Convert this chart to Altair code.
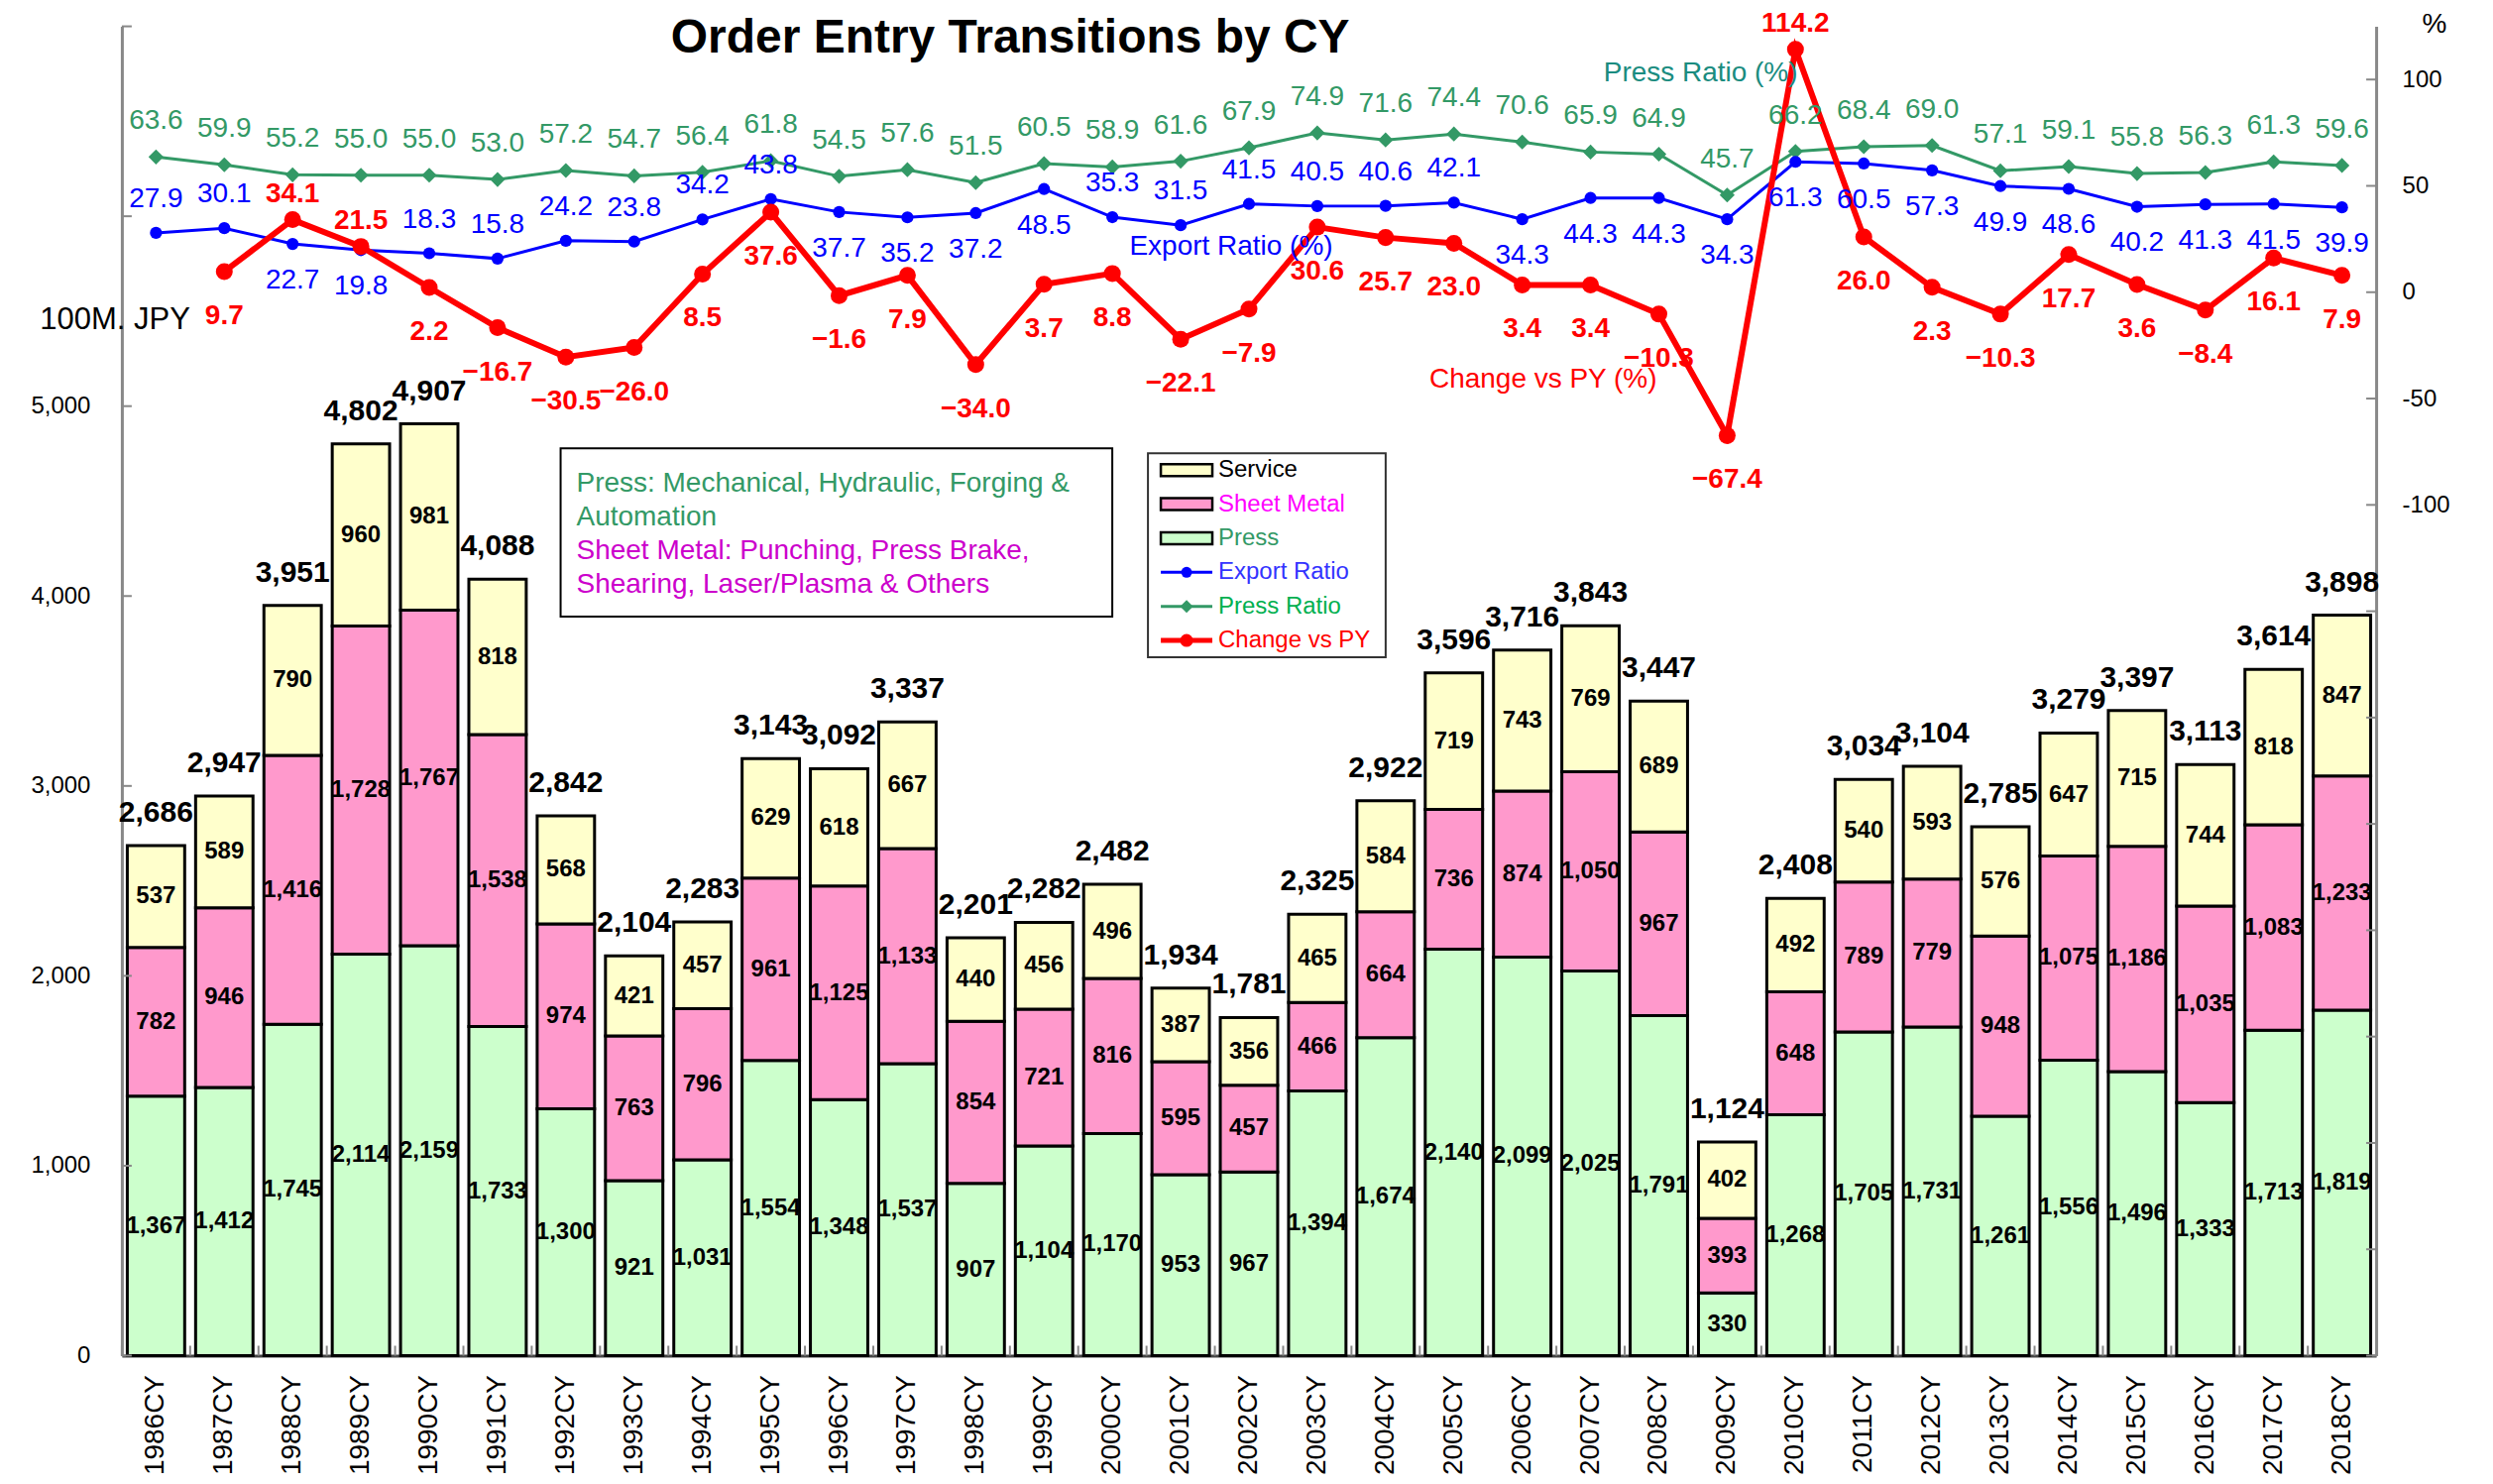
import altair as alt
import pandas as pd

# ---------------- data ----------------
years = [f"{y}CY" for y in range(1986, 2019)]
press = [1367, 1412, 1745, 2114, 2159, 1733, 1300, 921, 1031, 1554, 1348, 1537, 907, 1104, 1170,
         953, 967, 1394, 1674, 2140, 2099, 2025, 1791, 330, 1268, 1705, 1731, 1261, 1556, 1496,
         1333, 1713, 1819]
sheet_metal = [782, 946, 1416, 1728, 1767, 1538, 974, 763, 796, 961, 1125, 1133, 854, 721, 816,
               595, 457, 466, 664, 736, 874, 1050, 967, 393, 648, 789, 779, 948, 1075, 1186,
               1035, 1083, 1233]
service = [537, 589, 790, 960, 981, 818, 568, 421, 457, 629, 618, 667, 440, 456, 496,
           387, 356, 465, 584, 719, 743, 769, 689, 402, 492, 540, 593, 576, 647, 715,
           744, 818, 847]
totals = [2686, 2947, 3951, 4802, 4907, 4088, 2842, 2104, 2283, 3143, 3092, 3337, 2201, 2282, 2482,
          1934, 1781, 2325, 2922, 3596, 3716, 3843, 3447, 1124, 2408, 3034, 3104, 2785, 3279, 3397,
          3113, 3614, 3898]
press_ratio = [63.6, 59.9, 55.2, 55.0, 55.0, 53.0, 57.2, 54.7, 56.4, 61.8, 54.5, 57.6, 51.5, 60.5, 58.9,
               61.6, 67.9, 74.9, 71.6, 74.4, 70.6, 65.9, 64.9, 45.7, 66.2, 68.4, 69.0, 57.1, 59.1, 55.8,
               56.3, 61.3, 59.6]
export_ratio = [27.9, 30.1, 22.7, 19.8, 18.3, 15.8, 24.2, 23.8, 34.2, 43.8, 37.7, 35.2, 37.2, 48.5, 35.3,
                31.5, 41.5, 40.5, 40.6, 42.1, 34.3, 44.3, 44.3, 34.3, 61.3, 60.5, 57.3, 49.9, 48.6, 40.2,
                41.3, 41.5, 39.9]
change_vs_py = [None, 9.7, 34.1, 21.5, 2.2, -16.7, -30.5, -26.0, 8.5, 37.6, -1.6, 7.9, -34.0, 3.7, 8.8,
                -22.1, -7.9, 30.6, 25.7, 23.0, 3.4, 3.4, -10.3, -67.4, 114.2, 26.0, 2.3, -10.3, 17.7, 3.6,
                -8.4, 16.1, 7.9]
# label placement relative to the point (a = above, b = below)
export_side = ["a", "a", "b", "b", "a", "a", "a", "a", "a", "a", "b", "b", "b", "b", "a",
               "a", "a", "a", "a", "a", "b", "b", "b", "b", "b", "b", "b", "b", "b", "b",
               "b", "b", "b"]
change_side = ["b", "b", "a", "a", "b", "b", "b", "b", "b", "b", "b", "b", "b", "b", "b",
               "b", "b", "b", "b", "b", "b", "b", "b", "b", "a", "b", "b", "b", "b", "b",
               "b", "b", "b"]
categories = ["Press", "Sheet Metal", "Service"]
cat_colors = ["#ccffcc", "#ff99cc", "#ffffcc"]
left_ticks = [0, 1000, 2000, 3000, 4000, 5000, 6000, 7000]
left_labels = [0, 1000, 2000, 3000, 4000, 5000]
right_ticks = [-500, -450, -400, -350, -300, -250, -200, -150, -100, -50, 0, 50, 100]
right_labels = [-100, -50, 0, 50, 100]

# ---------------- layout ----------------
W, H = 2276, 1342
FONT = "Liberation Sans"
GREEN = "#339966"
BLUE = "#0000ff"
RED = "#ff0000"

rows = []
for i, y in enumerate(years):
    for k, (cat, vals) in enumerate(zip(categories, [press, sheet_metal, service])):
        rows.append({"year": y, "category": cat, "value": vals[i], "order": k})
bars_df = pd.DataFrame(rows)
year_df = pd.DataFrame({"year": years, "total": totals, "press_ratio": press_ratio,
                        "export_ratio": export_ratio, "change": change_vs_py,
                        "export_side": export_side, "change_side": change_side})

xsc = alt.Scale(domain=years, paddingInner=0.16, paddingOuter=0.08)
ysc_left = alt.Scale(domain=[0, 7000], nice=False, zero=True)
ysc_right = alt.Scale(domain=[-500, 125], nice=False, zero=False)

x_axis = alt.Axis(labelAngle=270, labelFontSize=28, labelFont=FONT, labelColor="#000", title=None,
                  tickSize=0, labelPadding=19, domainColor="#444", domainWidth=3, grid=False)
left_axis = alt.Axis(values=left_labels, labelExpr="format(datum.value, ',')", labelFontSize=24,
                     labelFont=FONT, title=None, labelColor="#000", tickSize=0, grid=False,
                     labelPadding=32, domainColor="#888", domainWidth=3, orient="left")
right_axis = alt.Axis(values=right_labels, labelExpr="'' + datum.value", orient="right", labelFontSize=24,
                      labelFont=FONT, title=None, labelColor="#000", tickSize=0, grid=False,
                      labelPadding=26, domainColor="#888", domainWidth=3)


def X(**kw):
    return alt.X("year:N", scale=xsc, axis=x_axis, sort=years, title=None, **kw)


def YL(f, **kw):
    return alt.Y(f, scale=ysc_left, axis=left_axis, title=None, **kw)


def YR(f):
    return alt.Y(f, scale=ysc_right, axis=right_axis, title=None)


bars = alt.Chart(bars_df).mark_bar(stroke="black", strokeWidth=3).encode(
    x=X(),
    y=YL("value:Q", stack="zero"),
    color=alt.Color("category:N", scale=alt.Scale(domain=categories, range=cat_colors), legend=None),
    order=alt.Order("order:Q", sort="ascending"),
)

seg_labels = alt.Chart(bars_df).transform_stack(
    stack="value", groupby=["year"], sort=[alt.SortField("order", order="ascending")], as_=["y0", "y1"]
).transform_calculate(mid="(datum.y0 + datum.y1) / 2").mark_text(
    font=FONT, fontSize=24, fontWeight="bold", color="black", baseline="middle"
).encode(
    x=X(),
    y=YL("mid:Q"),
    text=alt.Text("value:Q", format=","),
)

total_labels = alt.Chart(year_df).mark_text(
    font=FONT, fontSize=30, fontWeight="bold", color="black", baseline="middle", dy=-33
).encode(
    x=X(),
    y=YL("total:Q"),
    text=alt.Text("total:Q", format=","),
)

left_tick_marks = alt.Chart(pd.DataFrame({"v": left_ticks})).mark_rule(color="#888", strokeWidth=2).encode(
    y=YL("v:Q"), x=alt.value(0), x2=alt.value(10))

x_tick_marks = alt.Chart(year_df).mark_rule(color="#888", strokeWidth=2, xOffset=-5.5).encode(
    x=X(bandPosition=0), y=alt.value(H), y2=alt.value(H - 10))

left_layer = alt.layer(bars, seg_labels, total_labels, left_tick_marks, x_tick_marks)

# ---------------- right-axis layers ----------------
green_line = alt.Chart(year_df).mark_line(color=GREEN, strokeWidth=3).encode(
    x=X(), y=YR("press_ratio:Q"))
green_pts = alt.Chart(year_df).mark_point(shape="diamond", filled=True, size=230, color=GREEN, opacity=1).encode(
    x=X(), y=YR("press_ratio:Q"))
green_txt = alt.Chart(year_df).mark_text(font=FONT, fontSize=28, color=GREEN, dy=-36, baseline="middle").encode(
    x=X(), y=YR("press_ratio:Q"), text=alt.Text("press_ratio:Q", format=".1f"))

blue_line = alt.Chart(year_df).mark_line(color=BLUE, strokeWidth=3).encode(
    x=X(), y=YR("export_ratio:Q"))
blue_pts = alt.Chart(year_df).mark_circle(size=150, color=BLUE, opacity=1).encode(
    x=X(), y=YR("export_ratio:Q"))
blue_txt_a = alt.Chart(year_df).transform_filter("datum.export_side == 'a'").mark_text(
    font=FONT, fontSize=28, color=BLUE, dy=-34, baseline="middle").encode(
    x=X(), y=YR("export_ratio:Q"), text=alt.Text("export_ratio:Q", format=".1f"))
blue_txt_b = alt.Chart(year_df).transform_filter("datum.export_side == 'b'").mark_text(
    font=FONT, fontSize=28, color=BLUE, dy=37, baseline="middle").encode(
    x=X(), y=YR("export_ratio:Q"), text=alt.Text("export_ratio:Q", format=".1f"))

red_base = alt.Chart(year_df).transform_filter("isValid(datum.change)")
red_line = red_base.mark_line(color=RED, strokeWidth=6).encode(x=X(), y=YR("change:Q"))
red_pts = red_base.mark_circle(size=290, color=RED, opacity=1).encode(x=X(), y=YR("change:Q"))
red_txt_a = red_base.transform_filter("datum.change_side == 'a'").mark_text(
    font=FONT, fontSize=28, fontWeight="bold", color=RED, dy=-26, baseline="middle").encode(
    x=X(), y=YR("change:Q"), text=alt.Text("change:Q", format=".1f"))
red_txt_b = red_base.transform_filter("datum.change_side == 'b'").mark_text(
    font=FONT, fontSize=28, fontWeight="bold", color=RED, dy=45, baseline="middle").encode(
    x=X(), y=YR("change:Q"), text=alt.Text("change:Q", format=".1f"))

right_tick_marks = alt.Chart(pd.DataFrame({"v": right_ticks})).mark_rule(color="#888", strokeWidth=2).encode(
    y=YR("v:Q"), x=alt.value(W - 10), x2=alt.value(W))

one = pd.DataFrame({"a": [0]})


def txt(s, x, y, size=28, color="black", weight="normal", align="center"):
    return alt.Chart(one).mark_text(text=s, font=FONT, fontSize=size, color=color, fontWeight=weight,
                                    align=align, baseline="middle").encode(x=alt.value(x), y=alt.value(y))


annotations = [
    txt("Order Entry Transitions by CY", 897, 12, size=48, weight="bold"),
    txt("Press Ratio (%)", 1594, 47, color="#1a8c80"),
    txt("Export Ratio (%)", 1120, 223, color=BLUE),
    txt("Change vs PY (%)", 1435, 357, color=RED),
    txt("100M. JPY", 69, 297, size=31, align="right"),
    txt("%", 2335, -2),
]

# description box
box = alt.Chart(one).mark_rect(fill="white", stroke="black", strokeWidth=2).encode(
    x=alt.value(443), x2=alt.value(1000), y=alt.value(426), y2=alt.value(596))
desc_lines = [
    ("Press: Mechanical, Hydraulic, Forging &", GREEN),
    ("Automation", GREEN),
    ("Sheet Metal: Punching, Press Brake,", "#cc00cc"),
    ("Shearing, Laser/Plasma & Others", "#cc00cc"),
]
desc = [txt(s, 459, 462 + i * 34, color=c, align="left") for i, (s, c) in enumerate(desc_lines)]

# legend
leg_box = alt.Chart(one).mark_rect(fill="white", stroke="#333", strokeWidth=2).encode(
    x=alt.value(1036), x2=alt.value(1276), y=alt.value(431), y2=alt.value(637))
leg_items = []
leg_rows = [("Service", "#000000"), ("Sheet Metal", "#ff00ff"), ("Press", GREEN),
            ("Export Ratio", "#3333ff"), ("Press Ratio", "#00b050"), ("Change vs PY", RED)]
for i, (name, tcol) in enumerate(leg_rows):
    yy = 448 + i * 34.4
    if i < 3:
        leg_items.append(alt.Chart(one).mark_rect(fill=cat_colors[2 - i], stroke="black", strokeWidth=2.5).encode(
            x=alt.value(1049), x2=alt.value(1101), y=alt.value(yy - 6), y2=alt.value(yy + 6)))
    else:
        lc = [BLUE, GREEN, RED][i - 3]
        lw = [3, 3, 5][i - 3]
        leg_items.append(alt.Chart(one).mark_rule(color=lc, strokeWidth=lw).encode(
            x=alt.value(1049), x2=alt.value(1101), y=alt.value(yy)))
        if i == 4:
            leg_items.append(alt.Chart(one).mark_point(shape="diamond", filled=True, size=170, color=lc,
                                                       opacity=1).encode(x=alt.value(1075), y=alt.value(yy)))
        else:
            leg_items.append(alt.Chart(one).mark_circle(size=[120, 0, 170][i - 3], color=lc, opacity=1).encode(
                x=alt.value(1075), y=alt.value(yy)))
    leg_items.append(txt(name, 1107, yy, size=24, color=tcol, align="left"))

right_layer = alt.layer(green_line, green_pts, blue_line, blue_pts, red_line, red_pts,
                        green_txt, blue_txt_a, blue_txt_b, red_txt_a, red_txt_b, right_tick_marks,
                        box, *desc, leg_box, *leg_items, *annotations)

chart = alt.layer(left_layer, right_layer).resolve_scale(y="independent").properties(
    width=W, height=H,
    padding={"left": 115, "top": 18, "right": 110, "bottom": 129},
    autosize=alt.AutoSizeParams(type="none"),
    background="white",
).configure_view(stroke=None)

chart.save("out.html", embed_options={"renderer": "svg", "actions": False})
